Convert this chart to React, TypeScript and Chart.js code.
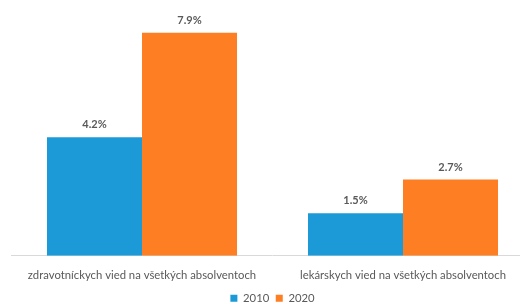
import React, { useEffect, useRef } from "react";
import { Chart, registerables } from "chart.js";

Chart.register(...registerables);

const categories = [
  "zdravotníckych vied na všetkých absolventoch",
  "lekárskych vied na všetkých absolventoch",
];
const seriesNames = ["2010", "2020"];
const values2010 = [4.2, 1.5];
const values2020 = [7.9, 2.7];
const colors = ["#1B9AD7", "#FD7E23"];

const FONT = "Lato, 'Open Sans', sans-serif";

const valueLabels = {
  id: "valueLabels",
  afterDatasetsDraw(chart: any) {
    const ctx = chart.ctx;
    ctx.save();
    ctx.font = `bold 11px ${FONT}`;
    ctx.fillStyle = "#595959";
    ctx.textAlign = "center";
    ctx.textBaseline = "bottom";
    chart.data.datasets.forEach((ds: any, i: number) => {
      const meta = chart.getDatasetMeta(i);
      meta.data.forEach((bar: any, j: number) => {
        ctx.fillText(ds.data[j].toFixed(1) + "%", bar.x, bar.y - 7);
      });
    });
    ctx.restore();
  },
};

export default function App() {
  const ref = useRef<HTMLCanvasElement>(null);
  useEffect(() => {
    if (!ref.current) return;
    const chart = new Chart(ref.current, {
      type: "bar",
      data: {
        labels: categories,
        datasets: [
          { label: seriesNames[0], data: values2010, backgroundColor: colors[0] },
          { label: seriesNames[1], data: values2020, backgroundColor: colors[1] },
        ],
      },
      options: {
        animation: false,
        responsive: false,
        maintainAspectRatio: false,
        layout: { padding: { left: 11.5, right: 12.5, top: 30, bottom: 0 } },
        datasets: { bar: { categoryPercentage: 0.728, barPercentage: 1 } },
        scales: {
          x: {
            grid: { display: false },
            border: { display: true, color: "#D9D9D9", width: 1 },
            ticks: { color: "#595959", font: { family: FONT, size: 11.3 }, padding: 4.5 },
          },
          y: { display: false, min: 0, max: 8 },
        },
        plugins: {
          legend: {
            position: "bottom",
            labels: {
              boxWidth: 7,
              boxHeight: 7,
              color: "#595959",
              font: { family: FONT, size: 11.3 },
              padding: 6.5,
            },
          },
          tooltip: { enabled: false },
        },
      },
      plugins: [valueLabels],
    });
    return () => chart.destroy();
  }, []);
  return (
    <div style={{ position: "fixed", left: 0, top: 0, width: 520, height: 303, overflow: "hidden", background: "#fff" }}>
      <canvas ref={ref} width={546} height={314} style={{ width: 546, height: 314, display: "block" }} />
    </div>
  );
}
